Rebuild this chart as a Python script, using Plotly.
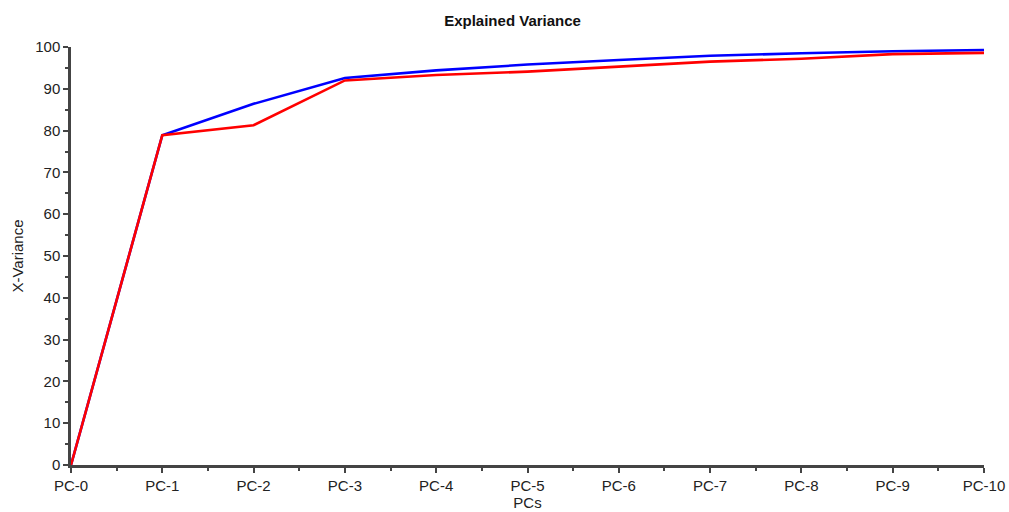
import plotly.graph_objects as go

categories = ["PC-0", "PC-1", "PC-2", "PC-3", "PC-4", "PC-5", "PC-6", "PC-7", "PC-8", "PC-9", "PC-10"]
blue_vals = [0, 78.9, 86.4, 92.6, 94.4, 95.8, 96.9, 97.9, 98.5, 99.0, 99.3]
red_vals = [0, 78.9, 81.3, 92.0, 93.3, 94.1, 95.3, 96.5, 97.2, 98.3, 98.6]
y_ticks = [0, 10, 20, 30, 40, 50, 60, 70, 80, 90, 100]

xpos = list(range(len(categories)))

fig = go.Figure()
fig.add_trace(go.Scatter(x=xpos, y=blue_vals, mode="lines",
                         line=dict(color="#0000ff", width=2.6), name="Blue"))
fig.add_trace(go.Scatter(x=xpos, y=red_vals, mode="lines",
                         line=dict(color="#ff0000", width=2.6), name="Red"))

axis_color = "#444444"
txt = "#222222"
fig.update_layout(
    width=1009, height=512,
    margin=dict(l=71, r=25, t=47, b=47),
    paper_bgcolor="white", plot_bgcolor="white",
    showlegend=False,
    font=dict(family="Liberation Sans, Arial, sans-serif", size=15, color=txt),
    title=dict(text="<b>Explained Variance</b>", x=0.508, xanchor="center", y=0.96, yanchor="middle",
               font=dict(family="Liberation Sans, Arial", size=15, color="#111111")),
    xaxis=dict(
        range=[0, 10], tickmode="array", tickvals=xpos, ticktext=categories,
        automargin=False,
        showgrid=False, zeroline=False, showline=True, linecolor=axis_color, linewidth=2.5,
        ticks="outside", ticklen=5, tickwidth=1.5, tickcolor=axis_color,
        minor=dict(tickmode="array", tickvals=[i + 0.5 for i in xpos[:-1]], ticks="outside",
                   ticklen=3, tickwidth=1.5, tickcolor=axis_color, showgrid=False),
        title=dict(text="PCs", standoff=2, font=dict(size=15, color=txt)),
        tickfont=dict(size=15, color=txt),
    ),
    yaxis=dict(
        range=[0, 100], tickmode="array", tickvals=y_ticks,
        automargin=False,
        showgrid=False, zeroline=False, showline=True, linecolor=axis_color, linewidth=2.5,
        ticks="outside", ticklen=5, tickwidth=1.5, tickcolor=axis_color,
        minor=dict(dtick=5, ticks="outside", ticklen=3, tickwidth=1.5, tickcolor=axis_color, showgrid=False),
        title=dict(text="X-Variance", standoff=8, font=dict(size=15, color=txt)),
        tickfont=dict(size=15, color=txt),
    ),
)

fig.write_html("out.html")
